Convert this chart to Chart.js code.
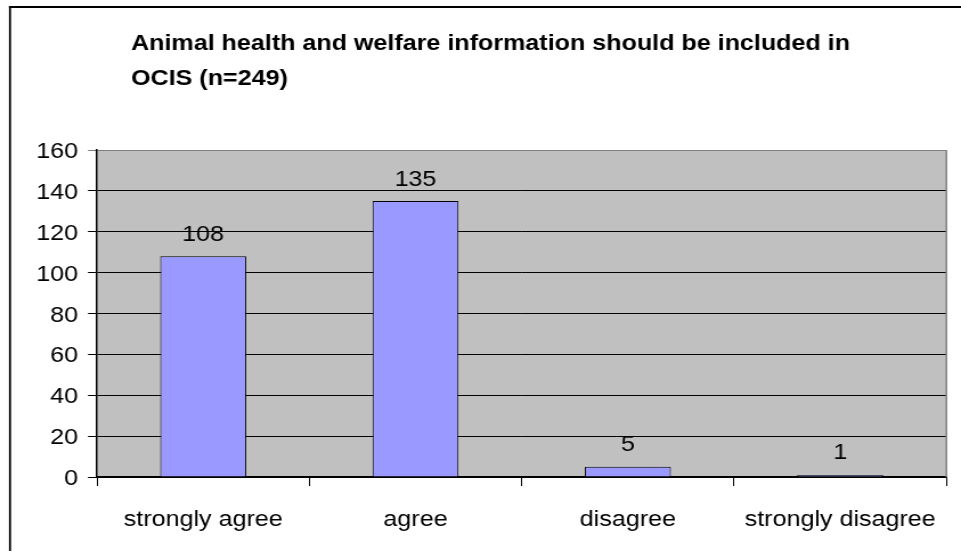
<!DOCTYPE html>
<html>
<head>
<meta charset="utf-8">
<script src="https://cdn.jsdelivr.net/npm/chart.js@4/dist/chart.umd.min.js"></script>
<style>
  html, body { margin: 0; padding: 0; background: #fff; overflow: hidden; }
  #wrap { width: 843px; height: 551px; transform-origin: 0 0; }
</style>
</head>
<body>
<div id="wrap"><canvas id="chart" width="843" height="551"></canvas></div>
<script>
// data
let categories = ["strongly agree", "agree", "disagree", "strongly disagree"];
let responses = [108, 135, 5, 1];
let titleLines = ["Animal health and welfare information should be included in", "OCIS (n=249)"];
let yMin = 0, yMax = 160, yStep = 20;

// the original looks horizontally stretched, so draw narrow and stretch
const STRETCH = 961 / 843;
document.getElementById("wrap").style.transform = "scaleX(" + STRETCH + ")";

const FONT = '"Liberation Sans", Arial, sans-serif';

let frame = {
    id: "frame",
    beforeDraw(chart) {
        let ctx = chart.ctx;
        let a = chart.chartArea;
        ctx.save();
        ctx.fillStyle = "#fff";
        ctx.fillRect(0, 0, chart.width, chart.height);
        ctx.fillStyle = "#c0c0c0";
        ctx.fillRect(a.left, a.top, a.right - a.left, a.bottom - a.top);
        // outer border, only top and left show
        ctx.fillStyle = "#000";
        ctx.fillRect(9 / STRETCH, 6, 2 / STRETCH, chart.height);
        ctx.fillRect(9 / STRETCH, 6, chart.width, 2);
        // title
        ctx.font = "bold 22px " + FONT;
        ctx.textBaseline = "alphabetic";
        ctx.textAlign = "left";
        ctx.fillText(titleLines[0], 131 / STRETCH, 50);
        ctx.fillText(titleLines[1], 131 / STRETCH, 85);
        ctx.restore();
    },
    afterDraw(chart) {
        let ctx = chart.ctx;
        let a = chart.chartArea;
        ctx.save();
        ctx.strokeStyle = "#808080";
        ctx.lineWidth = 1.5;
        ctx.beginPath();
        ctx.moveTo(a.right, a.top);
        ctx.lineTo(a.right, a.bottom);
        ctx.stroke();
        ctx.restore();
    }
};

let barLabels = {
    id: "barLabels",
    afterDatasetsDraw(chart) {
        let ctx = chart.ctx;
        let meta = chart.getDatasetMeta(0);
        ctx.save();
        ctx.font = "22px " + FONT;
        ctx.fillStyle = "#000";
        ctx.textAlign = "center";
        ctx.textBaseline = "alphabetic";
        meta.data.forEach((bar, i) => {
            ctx.fillText(String(responses[i]), bar.x, bar.y - 15.5);
        });
        ctx.restore();
    }
};

new Chart(document.getElementById("chart"), {
    type: "bar",
    data: {
        labels: categories,
        datasets: [{
            data: responses,
            backgroundColor: "#9999ff",
            borderColor: "#000",
            borderWidth: 1,
            barPercentage: 0.405,
            categoryPercentage: 1
        }]
    },
    options: {
        responsive: false,
        animation: false,
        devicePixelRatio: 1,
        layout: { padding: { left: 0, right: 843 - 950 / STRETCH, top: 150, bottom: 0 } },
        plugins: { legend: { display: false }, title: { display: false }, tooltip: { enabled: false } },
        scales: {
            x: {
                offset: true,
                grid: { offset: true, drawOnChartArea: false, color: "#000", tickLength: 9, lineWidth: 1 },
                border: { color: "#000", width: 1.5 },
                ticks: { color: "#000", font: { family: FONT, size: 22 }, padding: 21, maxRotation: 0, autoSkip: false },
                afterFit: s => { s.height = 551 - 477; }
            },
            y: {
                min: yMin,
                max: yMax,
                grid: {
                    color: c => c.tick && c.tick.value === yMax ? "#808080" : "#000",
                    lineWidth: 1,
                    tickLength: 9 / STRETCH
                },
                border: { color: "#000", width: 1.5 },
                ticks: { stepSize: yStep, color: "#000", font: { family: FONT, size: 22 }, padding: 8.8, labelOffset: 2 },
                afterFit: s => { s.width = 97 / STRETCH; }
            }
        }
    },
    plugins: [frame, barLabels]
});
</script>
</body>
</html>
